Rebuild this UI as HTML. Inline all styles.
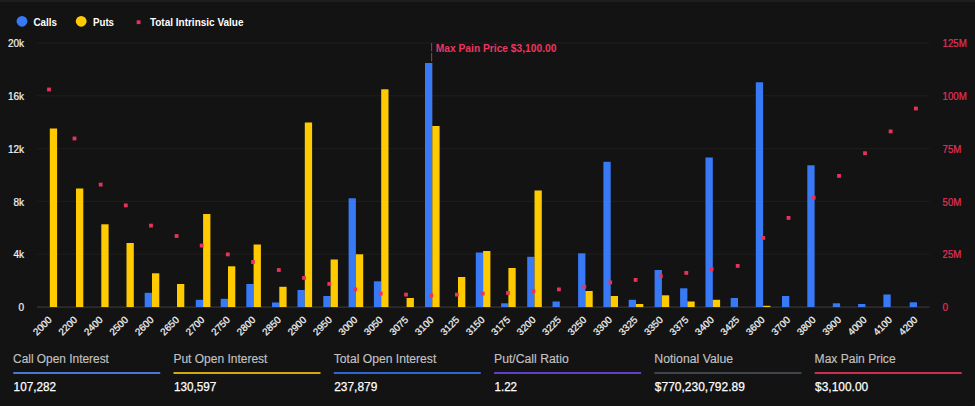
<!DOCTYPE html><html><head><meta charset="utf-8"><title>Options Open Interest</title>
<style>html,body{margin:0;padding:0;background:#131313;}body{width:975px;height:406px;overflow:hidden;}svg{display:block}text{font-family:"Liberation Sans",sans-serif;}</style></head><body>
<svg width="975" height="406" viewBox="0 0 975 406">
<rect x="0" y="0" width="975" height="406" fill="#131313"/>
<rect x="0" y="0" width="975" height="2" fill="#1c1e21"/>
<rect x="37" y="42.50" width="892.5" height="1" fill="#1e1e1e"/>
<rect x="37" y="95.30" width="892.5" height="1" fill="#1e1e1e"/>
<rect x="37" y="148.10" width="892.5" height="1" fill="#1e1e1e"/>
<rect x="37" y="200.90" width="892.5" height="1" fill="#1e1e1e"/>
<rect x="37" y="253.70" width="892.5" height="1" fill="#1e1e1e"/>
<rect x="37" y="306.5" width="892.5" height="1.2" fill="#383838"/>
<circle cx="22" cy="21.3" r="5.4" fill="#3879f6"/>
<circle cx="81.2" cy="21.3" r="5.4" fill="#ffcb00"/>
<rect x="136.7" y="20.3" width="3.8" height="3.8" fill="#e8325c"/>
<text x="33.5" y="25.9" font-size="11" font-weight="bold" fill="#ffffff" text-anchor="start" textLength="23.5" lengthAdjust="spacingAndGlyphs">Calls</text>
<text x="93" y="25.9" font-size="11" font-weight="bold" fill="#ffffff" text-anchor="start" textLength="21" lengthAdjust="spacingAndGlyphs">Puts</text>
<text x="149.9" y="25.9" font-size="11" font-weight="bold" fill="#ffffff" text-anchor="start" textLength="93.6" lengthAdjust="spacingAndGlyphs">Total Intrinsic Value</text>
<text x="24.1" y="46.8" font-size="10" font-weight="normal" fill="#f4f4f4" text-anchor="end" stroke="#f4f4f4" stroke-width="0.2">20k</text>
<text x="24.1" y="100.1" font-size="10" font-weight="normal" fill="#f4f4f4" text-anchor="end" stroke="#f4f4f4" stroke-width="0.2">16k</text>
<text x="24.1" y="152.8" font-size="10" font-weight="normal" fill="#f4f4f4" text-anchor="end" stroke="#f4f4f4" stroke-width="0.2">12k</text>
<text x="24.1" y="205.6" font-size="10" font-weight="normal" fill="#f4f4f4" text-anchor="end" stroke="#f4f4f4" stroke-width="0.2">8k</text>
<text x="24.1" y="258.3" font-size="10" font-weight="normal" fill="#f4f4f4" text-anchor="end" stroke="#f4f4f4" stroke-width="0.2">4k</text>
<text x="24.1" y="310.8" font-size="10" font-weight="normal" fill="#f4f4f4" text-anchor="end" stroke="#f4f4f4" stroke-width="0.2">0</text>
<text x="942.6" y="46.8" font-size="10" font-weight="normal" fill="#e6305a" text-anchor="start" textLength="24.2" lengthAdjust="spacingAndGlyphs" stroke="#e6305a" stroke-width="0.2">125M</text>
<text x="942.6" y="100.1" font-size="10" font-weight="normal" fill="#e6305a" text-anchor="start" textLength="24.2" lengthAdjust="spacingAndGlyphs" stroke="#e6305a" stroke-width="0.2">100M</text>
<text x="942.6" y="152.8" font-size="10" font-weight="normal" fill="#e6305a" text-anchor="start" textLength="18.7" lengthAdjust="spacingAndGlyphs" stroke="#e6305a" stroke-width="0.2">75M</text>
<text x="942.6" y="205.6" font-size="10" font-weight="normal" fill="#e6305a" text-anchor="start" textLength="18.7" lengthAdjust="spacingAndGlyphs" stroke="#e6305a" stroke-width="0.2">50M</text>
<text x="942.6" y="258.3" font-size="10" font-weight="normal" fill="#e6305a" text-anchor="start" textLength="18.7" lengthAdjust="spacingAndGlyphs" stroke="#e6305a" stroke-width="0.2">25M</text>
<text x="942.6" y="310.8" font-size="10" font-weight="normal" fill="#e6305a" text-anchor="start" stroke="#e6305a" stroke-width="0.2">0</text>
<line x1="431.6" y1="42.9" x2="431.6" y2="307" stroke="#b32a4a" stroke-width="1.1" stroke-dasharray="8.5 1.5"/>
<rect x="49.80" y="128.50" width="7.3" height="178.50" fill="#ffcb00"/>
<rect x="76.00" y="188.50" width="7.3" height="118.50" fill="#ffcb00"/>
<rect x="101.30" y="224.30" width="7.3" height="82.70" fill="#ffcb00"/>
<rect x="126.50" y="243.00" width="7.3" height="64.00" fill="#ffcb00"/>
<rect x="144.70" y="292.80" width="7.3" height="14.20" fill="#3879f6"/>
<rect x="152.00" y="273.30" width="7.3" height="33.70" fill="#ffcb00"/>
<rect x="177.00" y="284.00" width="7.3" height="23.00" fill="#ffcb00"/>
<rect x="195.80" y="299.80" width="7.3" height="7.20" fill="#3879f6"/>
<rect x="203.10" y="214.00" width="7.3" height="93.00" fill="#ffcb00"/>
<rect x="220.70" y="298.80" width="7.3" height="8.20" fill="#3879f6"/>
<rect x="228.00" y="266.30" width="7.3" height="40.70" fill="#ffcb00"/>
<rect x="246.30" y="284.00" width="7.3" height="23.00" fill="#3879f6"/>
<rect x="253.60" y="244.50" width="7.3" height="62.50" fill="#ffcb00"/>
<rect x="272.00" y="302.50" width="7.3" height="4.50" fill="#3879f6"/>
<rect x="279.30" y="286.80" width="7.3" height="20.20" fill="#ffcb00"/>
<rect x="297.50" y="290.00" width="7.3" height="17.00" fill="#3879f6"/>
<rect x="304.80" y="122.50" width="7.3" height="184.50" fill="#ffcb00"/>
<rect x="323.30" y="296.00" width="7.3" height="11.00" fill="#3879f6"/>
<rect x="330.60" y="259.50" width="7.3" height="47.50" fill="#ffcb00"/>
<rect x="348.60" y="198.30" width="7.3" height="108.70" fill="#3879f6"/>
<rect x="355.90" y="254.30" width="7.3" height="52.70" fill="#ffcb00"/>
<rect x="373.90" y="281.30" width="7.3" height="25.70" fill="#3879f6"/>
<rect x="381.20" y="89.30" width="7.3" height="217.70" fill="#ffcb00"/>
<rect x="406.60" y="298.00" width="7.3" height="9.00" fill="#ffcb00"/>
<rect x="425.00" y="63.00" width="7.3" height="244.00" fill="#3879f6"/>
<rect x="432.30" y="126.00" width="7.3" height="181.00" fill="#ffcb00"/>
<rect x="458.00" y="277.00" width="7.3" height="30.00" fill="#ffcb00"/>
<rect x="475.80" y="252.50" width="7.3" height="54.50" fill="#3879f6"/>
<rect x="483.10" y="251.00" width="7.3" height="56.00" fill="#ffcb00"/>
<rect x="501.10" y="303.30" width="7.3" height="3.70" fill="#3879f6"/>
<rect x="508.40" y="268.00" width="7.3" height="39.00" fill="#ffcb00"/>
<rect x="527.20" y="256.80" width="7.3" height="50.20" fill="#3879f6"/>
<rect x="534.50" y="190.50" width="7.3" height="116.50" fill="#ffcb00"/>
<rect x="552.50" y="301.50" width="7.3" height="5.50" fill="#3879f6"/>
<rect x="578.10" y="253.30" width="7.3" height="53.70" fill="#3879f6"/>
<rect x="585.40" y="291.00" width="7.3" height="16.00" fill="#ffcb00"/>
<rect x="603.40" y="161.80" width="7.3" height="145.20" fill="#3879f6"/>
<rect x="610.70" y="296.00" width="7.3" height="11.00" fill="#ffcb00"/>
<rect x="628.70" y="299.80" width="7.3" height="7.20" fill="#3879f6"/>
<rect x="636.00" y="304.00" width="7.3" height="3.00" fill="#ffcb00"/>
<rect x="654.60" y="270.00" width="7.3" height="37.00" fill="#3879f6"/>
<rect x="661.90" y="295.30" width="7.3" height="11.70" fill="#ffcb00"/>
<rect x="680.10" y="288.30" width="7.3" height="18.70" fill="#3879f6"/>
<rect x="687.40" y="301.50" width="7.3" height="5.50" fill="#ffcb00"/>
<rect x="705.50" y="157.50" width="7.3" height="149.50" fill="#3879f6"/>
<rect x="712.80" y="299.80" width="7.3" height="7.20" fill="#ffcb00"/>
<rect x="730.70" y="298.00" width="7.3" height="9.00" fill="#3879f6"/>
<rect x="755.80" y="82.30" width="7.3" height="224.70" fill="#3879f6"/>
<rect x="763.10" y="305.80" width="7.3" height="1.20" fill="#ffcb00"/>
<rect x="782.00" y="296.00" width="7.3" height="11.00" fill="#3879f6"/>
<rect x="807.30" y="165.30" width="7.3" height="141.70" fill="#3879f6"/>
<rect x="832.80" y="303.30" width="7.3" height="3.70" fill="#3879f6"/>
<rect x="858.10" y="304.00" width="7.3" height="3.00" fill="#3879f6"/>
<rect x="883.40" y="294.50" width="7.3" height="12.50" fill="#3879f6"/>
<rect x="909.70" y="302.30" width="7.3" height="4.70" fill="#3879f6"/>
<rect x="47.10" y="87.60" width="3.8" height="3.8" fill="#e8325c"/>
<rect x="72.60" y="136.60" width="3.8" height="3.8" fill="#e8325c"/>
<rect x="98.80" y="182.70" width="3.8" height="3.8" fill="#e8325c"/>
<rect x="123.90" y="203.50" width="3.8" height="3.8" fill="#e8325c"/>
<rect x="149.10" y="223.70" width="3.8" height="3.8" fill="#e8325c"/>
<rect x="174.70" y="234.10" width="3.8" height="3.8" fill="#e8325c"/>
<rect x="199.80" y="243.70" width="3.8" height="3.8" fill="#e8325c"/>
<rect x="225.90" y="252.50" width="3.8" height="3.8" fill="#e8325c"/>
<rect x="251.10" y="260.10" width="3.8" height="3.8" fill="#e8325c"/>
<rect x="276.90" y="268.10" width="3.8" height="3.8" fill="#e8325c"/>
<rect x="302.10" y="276.00" width="3.8" height="3.8" fill="#e8325c"/>
<rect x="327.40" y="282.00" width="3.8" height="3.8" fill="#e8325c"/>
<rect x="353.30" y="287.50" width="3.8" height="3.8" fill="#e8325c"/>
<rect x="378.90" y="291.70" width="3.8" height="3.8" fill="#e8325c"/>
<rect x="404.10" y="292.70" width="3.8" height="3.8" fill="#e8325c"/>
<rect x="429.40" y="293.50" width="3.8" height="3.8" fill="#e8325c"/>
<rect x="455.00" y="292.70" width="3.8" height="3.8" fill="#e8325c"/>
<rect x="480.80" y="291.70" width="3.8" height="3.8" fill="#e8325c"/>
<rect x="506.10" y="291.00" width="3.8" height="3.8" fill="#e8325c"/>
<rect x="531.50" y="289.30" width="3.8" height="3.8" fill="#e8325c"/>
<rect x="557.00" y="287.50" width="3.8" height="3.8" fill="#e8325c"/>
<rect x="582.40" y="284.80" width="3.8" height="3.8" fill="#e8325c"/>
<rect x="608.30" y="280.50" width="3.8" height="3.8" fill="#e8325c"/>
<rect x="633.70" y="278.00" width="3.8" height="3.8" fill="#e8325c"/>
<rect x="658.90" y="274.30" width="3.8" height="3.8" fill="#e8325c"/>
<rect x="684.40" y="271.00" width="3.8" height="3.8" fill="#e8325c"/>
<rect x="709.70" y="267.30" width="3.8" height="3.8" fill="#e8325c"/>
<rect x="735.80" y="264.00" width="3.8" height="3.8" fill="#e8325c"/>
<rect x="761.30" y="236.00" width="3.8" height="3.8" fill="#e8325c"/>
<rect x="786.60" y="216.00" width="3.8" height="3.8" fill="#e8325c"/>
<rect x="811.80" y="195.80" width="3.8" height="3.8" fill="#e8325c"/>
<rect x="837.10" y="174.00" width="3.8" height="3.8" fill="#e8325c"/>
<rect x="863.10" y="151.30" width="3.8" height="3.8" fill="#e8325c"/>
<rect x="888.70" y="129.50" width="3.8" height="3.8" fill="#e8325c"/>
<rect x="914.00" y="106.60" width="3.8" height="3.8" fill="#e8325c"/>
<text x="435.8" y="51.8" font-size="10.5" font-weight="bold" fill="#ee3560" text-anchor="start" textLength="120.6" lengthAdjust="spacingAndGlyphs">Max Pain Price $3,100.00</text>
<text x="52.45" y="320.5" font-size="9.8" fill="#f4f4f4" stroke="#f4f4f4" stroke-width="0.25" text-anchor="end" transform="rotate(-45 52.45 320.5)">2000</text>
<text x="77.91" y="320.5" font-size="9.8" fill="#f4f4f4" stroke="#f4f4f4" stroke-width="0.25" text-anchor="end" transform="rotate(-45 77.91 320.5)">2200</text>
<text x="103.38" y="320.5" font-size="9.8" fill="#f4f4f4" stroke="#f4f4f4" stroke-width="0.25" text-anchor="end" transform="rotate(-45 103.38 320.5)">2400</text>
<text x="128.84" y="320.5" font-size="9.8" fill="#f4f4f4" stroke="#f4f4f4" stroke-width="0.25" text-anchor="end" transform="rotate(-45 128.84 320.5)">2500</text>
<text x="154.30" y="320.5" font-size="9.8" fill="#f4f4f4" stroke="#f4f4f4" stroke-width="0.25" text-anchor="end" transform="rotate(-45 154.30 320.5)">2600</text>
<text x="179.76" y="320.5" font-size="9.8" fill="#f4f4f4" stroke="#f4f4f4" stroke-width="0.25" text-anchor="end" transform="rotate(-45 179.76 320.5)">2650</text>
<text x="205.23" y="320.5" font-size="9.8" fill="#f4f4f4" stroke="#f4f4f4" stroke-width="0.25" text-anchor="end" transform="rotate(-45 205.23 320.5)">2700</text>
<text x="230.69" y="320.5" font-size="9.8" fill="#f4f4f4" stroke="#f4f4f4" stroke-width="0.25" text-anchor="end" transform="rotate(-45 230.69 320.5)">2750</text>
<text x="256.15" y="320.5" font-size="9.8" fill="#f4f4f4" stroke="#f4f4f4" stroke-width="0.25" text-anchor="end" transform="rotate(-45 256.15 320.5)">2800</text>
<text x="281.62" y="320.5" font-size="9.8" fill="#f4f4f4" stroke="#f4f4f4" stroke-width="0.25" text-anchor="end" transform="rotate(-45 281.62 320.5)">2850</text>
<text x="307.08" y="320.5" font-size="9.8" fill="#f4f4f4" stroke="#f4f4f4" stroke-width="0.25" text-anchor="end" transform="rotate(-45 307.08 320.5)">2900</text>
<text x="332.54" y="320.5" font-size="9.8" fill="#f4f4f4" stroke="#f4f4f4" stroke-width="0.25" text-anchor="end" transform="rotate(-45 332.54 320.5)">2950</text>
<text x="358.01" y="320.5" font-size="9.8" fill="#f4f4f4" stroke="#f4f4f4" stroke-width="0.25" text-anchor="end" transform="rotate(-45 358.01 320.5)">3000</text>
<text x="383.47" y="320.5" font-size="9.8" fill="#f4f4f4" stroke="#f4f4f4" stroke-width="0.25" text-anchor="end" transform="rotate(-45 383.47 320.5)">3050</text>
<text x="408.93" y="320.5" font-size="9.8" fill="#f4f4f4" stroke="#f4f4f4" stroke-width="0.25" text-anchor="end" transform="rotate(-45 408.93 320.5)">3075</text>
<text x="434.39" y="320.5" font-size="9.8" fill="#f4f4f4" stroke="#f4f4f4" stroke-width="0.25" text-anchor="end" transform="rotate(-45 434.39 320.5)">3100</text>
<text x="459.86" y="320.5" font-size="9.8" fill="#f4f4f4" stroke="#f4f4f4" stroke-width="0.25" text-anchor="end" transform="rotate(-45 459.86 320.5)">3125</text>
<text x="485.32" y="320.5" font-size="9.8" fill="#f4f4f4" stroke="#f4f4f4" stroke-width="0.25" text-anchor="end" transform="rotate(-45 485.32 320.5)">3150</text>
<text x="510.78" y="320.5" font-size="9.8" fill="#f4f4f4" stroke="#f4f4f4" stroke-width="0.25" text-anchor="end" transform="rotate(-45 510.78 320.5)">3175</text>
<text x="536.25" y="320.5" font-size="9.8" fill="#f4f4f4" stroke="#f4f4f4" stroke-width="0.25" text-anchor="end" transform="rotate(-45 536.25 320.5)">3200</text>
<text x="561.71" y="320.5" font-size="9.8" fill="#f4f4f4" stroke="#f4f4f4" stroke-width="0.25" text-anchor="end" transform="rotate(-45 561.71 320.5)">3225</text>
<text x="587.17" y="320.5" font-size="9.8" fill="#f4f4f4" stroke="#f4f4f4" stroke-width="0.25" text-anchor="end" transform="rotate(-45 587.17 320.5)">3250</text>
<text x="612.64" y="320.5" font-size="9.8" fill="#f4f4f4" stroke="#f4f4f4" stroke-width="0.25" text-anchor="end" transform="rotate(-45 612.64 320.5)">3300</text>
<text x="638.10" y="320.5" font-size="9.8" fill="#f4f4f4" stroke="#f4f4f4" stroke-width="0.25" text-anchor="end" transform="rotate(-45 638.10 320.5)">3325</text>
<text x="663.56" y="320.5" font-size="9.8" fill="#f4f4f4" stroke="#f4f4f4" stroke-width="0.25" text-anchor="end" transform="rotate(-45 663.56 320.5)">3350</text>
<text x="689.03" y="320.5" font-size="9.8" fill="#f4f4f4" stroke="#f4f4f4" stroke-width="0.25" text-anchor="end" transform="rotate(-45 689.03 320.5)">3375</text>
<text x="714.49" y="320.5" font-size="9.8" fill="#f4f4f4" stroke="#f4f4f4" stroke-width="0.25" text-anchor="end" transform="rotate(-45 714.49 320.5)">3400</text>
<text x="739.95" y="320.5" font-size="9.8" fill="#f4f4f4" stroke="#f4f4f4" stroke-width="0.25" text-anchor="end" transform="rotate(-45 739.95 320.5)">3425</text>
<text x="765.41" y="320.5" font-size="9.8" fill="#f4f4f4" stroke="#f4f4f4" stroke-width="0.25" text-anchor="end" transform="rotate(-45 765.41 320.5)">3600</text>
<text x="790.88" y="320.5" font-size="9.8" fill="#f4f4f4" stroke="#f4f4f4" stroke-width="0.25" text-anchor="end" transform="rotate(-45 790.88 320.5)">3700</text>
<text x="816.34" y="320.5" font-size="9.8" fill="#f4f4f4" stroke="#f4f4f4" stroke-width="0.25" text-anchor="end" transform="rotate(-45 816.34 320.5)">3800</text>
<text x="841.80" y="320.5" font-size="9.8" fill="#f4f4f4" stroke="#f4f4f4" stroke-width="0.25" text-anchor="end" transform="rotate(-45 841.80 320.5)">3900</text>
<text x="867.27" y="320.5" font-size="9.8" fill="#f4f4f4" stroke="#f4f4f4" stroke-width="0.25" text-anchor="end" transform="rotate(-45 867.27 320.5)">4000</text>
<text x="892.73" y="320.5" font-size="9.8" fill="#f4f4f4" stroke="#f4f4f4" stroke-width="0.25" text-anchor="end" transform="rotate(-45 892.73 320.5)">4100</text>
<text x="918.19" y="320.5" font-size="9.8" fill="#f4f4f4" stroke="#f4f4f4" stroke-width="0.25" text-anchor="end" transform="rotate(-45 918.19 320.5)">4200</text>
<text x="13.10" y="363.4" font-size="12.5" font-weight="normal" fill="#c2c2c2" text-anchor="start" textLength="95.8" lengthAdjust="spacingAndGlyphs" stroke="#c2c2c2" stroke-width="0.15">Call Open Interest</text>
<rect x="13.20" y="372" width="147" height="2" fill="#4878d4"/>
<text x="13.60" y="390.8" font-size="13.1" font-weight="normal" fill="#ffffff" text-anchor="start" textLength="42.5" lengthAdjust="spacingAndGlyphs" stroke="#ffffff" stroke-width="0.25">107,282</text>
<text x="173.40" y="363.4" font-size="12.5" font-weight="normal" fill="#c2c2c2" text-anchor="start" textLength="94" lengthAdjust="spacingAndGlyphs" stroke="#c2c2c2" stroke-width="0.15">Put Open Interest</text>
<rect x="173.50" y="372" width="147" height="2" fill="#d4a70c"/>
<text x="173.90" y="390.8" font-size="13.1" font-weight="normal" fill="#ffffff" text-anchor="start" textLength="42.5" lengthAdjust="spacingAndGlyphs" stroke="#ffffff" stroke-width="0.25">130,597</text>
<text x="333.70" y="363.4" font-size="12.5" font-weight="normal" fill="#c2c2c2" text-anchor="start" textLength="102.6" lengthAdjust="spacingAndGlyphs" stroke="#c2c2c2" stroke-width="0.15">Total Open Interest</text>
<rect x="333.80" y="372" width="147" height="2" fill="#2f66d2"/>
<text x="334.20" y="390.8" font-size="13.1" font-weight="normal" fill="#ffffff" text-anchor="start" textLength="43.1" lengthAdjust="spacingAndGlyphs" stroke="#ffffff" stroke-width="0.25">237,879</text>
<text x="494.00" y="363.4" font-size="12.5" font-weight="normal" fill="#c2c2c2" text-anchor="start" textLength="74.7" lengthAdjust="spacingAndGlyphs" stroke="#c2c2c2" stroke-width="0.15">Put/Call Ratio</text>
<rect x="494.10" y="372" width="147" height="2" fill="#6040c8"/>
<text x="494.50" y="390.8" font-size="13.1" font-weight="normal" fill="#ffffff" text-anchor="start" textLength="22.5" lengthAdjust="spacingAndGlyphs" stroke="#ffffff" stroke-width="0.25">1.22</text>
<text x="654.30" y="363.4" font-size="12.5" font-weight="normal" fill="#c2c2c2" text-anchor="start" textLength="78.8" lengthAdjust="spacingAndGlyphs" stroke="#c2c2c2" stroke-width="0.15">Notional Value</text>
<rect x="654.40" y="372" width="147" height="2" fill="#42444c"/>
<text x="654.80" y="390.8" font-size="13.1" font-weight="normal" fill="#ffffff" text-anchor="start" textLength="90.1" lengthAdjust="spacingAndGlyphs" stroke="#ffffff" stroke-width="0.25">$770,230,792.89</text>
<text x="814.60" y="363.4" font-size="12.5" font-weight="normal" fill="#c2c2c2" text-anchor="start" textLength="81" lengthAdjust="spacingAndGlyphs" stroke="#c2c2c2" stroke-width="0.15">Max Pain Price</text>
<rect x="814.70" y="372" width="147" height="2" fill="#cc2e50"/>
<text x="815.10" y="390.8" font-size="13.1" font-weight="normal" fill="#ffffff" text-anchor="start" textLength="53.1" lengthAdjust="spacingAndGlyphs" stroke="#ffffff" stroke-width="0.25">$3,100.00</text>
<rect x="974" y="405" width="1" height="1" fill="#2a2a2a"/>
</svg></body></html>
